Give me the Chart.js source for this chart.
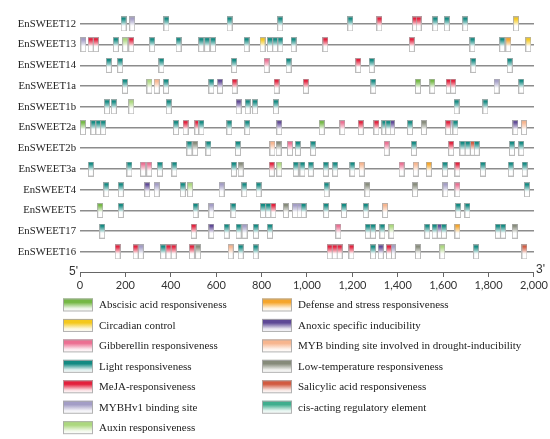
<!DOCTYPE html>
<html><head><meta charset="utf-8">
<script src="https://cdn.jsdelivr.net/npm/chart.js@4"></script>
<style>html,body{margin:0;padding:0;background:#fff;}#wrap{width:550px;height:439px;}</style>
</head><body><div id="wrap"><canvas id="c" width="550" height="439"></canvas></div>
<script>
// ---- categories (genes, top to bottom) ----
const genes = ['EnSWEET12','EnSWEET13','EnSWEET14','EnSWEET1a','EnSWEET1b','EnSWEET2a','EnSWEET2b','EnSWEET3a','EnSWEET4','EnSWEET5','EnSWEET17','EnSWEET16'];
// ---- element types (legend order) ----
const typeCodes = ['ABA','CIR','GA','LIG','MEJA','HV1','AUX','DEF','ANO','MYB','LTR','SA','CIS'];
const typeNames = ['Abscisic acid responsiveness','Circadian control','Gibberellin responsiveness','Light responsiveness','MeJA-responsiveness','MYBHv1 binding site','Auxin responsiveness','Defense and stress responsiveness','Anoxic specific inducibility','MYB binding site involved in drought-inducibility','Low-temperature responsiveness','Salicylic acid responsiveness','cis-acting regulatory element'];
const typeColors = ['#74b843','#f4c81c','#ec6f92','#128a82','#e3203c','#a39dc6','#acd87e','#f5a52a','#5e4896','#f7b58e','#868b7a','#d25a40','#3fae8e'];
// ---- x-axis tick values (bp) ----
const xTickValues = [0,200,400,600,800,1000,1200,1400,1600,1800,2000];
// ---- cis-element sites per gene: [position (bp), type code] ----
const EnSWEET12 = [[192,'LIG'],[230,'HV1'],[381,'LIG'],[659,'LIG'],[882,'LIG'],[1191,'LIG'],[1319,'MEJA'],[1476,'MEJA'],[1492,'MEJA'],[1565,'LIG'],[1616,'LIG'],[1697,'LIG'],[1921,'CIR']];
const EnSWEET13 = [[15,'HV1'],[47,'MEJA'],[70,'MEJA'],[158,'LIG'],[199,'AUX'],[226,'MEJA'],[318,'LIG'],[434,'LIG'],[534,'LIG'],[560,'LIG'],[586,'LIG'],[734,'LIG'],[804,'CIR'],[837,'LIG'],[860,'LIG'],[883,'LIG'],[941,'LIG'],[1081,'MEJA'],[1462,'MEJA'],[1729,'LIG'],[1860,'LIG'],[1887,'DEF'],[1975,'CIR']];
const EnSWEET14 = [[127,'LIG'],[177,'LIG'],[359,'LIG'],[679,'LIG'],[822,'GA'],[919,'LIG'],[1226,'MEJA'],[1285,'LIG'],[1733,'LIG'],[1893,'LIG']];
const EnSWEET1a = [[198,'LIG'],[306,'AUX'],[338,'MYB'],[379,'LIG'],[579,'LIG'],[617,'ANO'],[681,'MEJA'],[866,'MEJA'],[995,'MEJA'],[1292,'LIG'],[1489,'ABA'],[1552,'ABA'],[1624,'MEJA'],[1644,'MEJA'],[1835,'HV1'],[1944,'LIG']];
const EnSWEET1b = [[119,'LIG'],[149,'LIG'],[226,'AUX'],[391,'LIG'],[699,'ANO'],[739,'LIG'],[771,'LIG'],[863,'LIG'],[1659,'LIG'],[1786,'LIG']];
const EnSWEET2a = [[13,'ABA'],[59,'LIG'],[81,'LIG'],[102,'LIG'],[423,'LIG'],[465,'MEJA'],[517,'MEJA'],[535,'LIG'],[658,'LIG'],[737,'LIG'],[878,'ANO'],[1065,'ABA'],[1156,'GA'],[1237,'MEJA'],[1306,'MEJA'],[1341,'LIG'],[1358,'LIG'],[1375,'ANO'],[1454,'LIG'],[1515,'LTR'],[1622,'MEJA'],[1637,'HV1'],[1654,'LIG'],[1918,'ANO'],[1956,'MYB']];
const EnSWEET2b = [[482,'LIG'],[507,'LTR'],[566,'LIG'],[696,'LIG'],[848,'MYB'],[875,'LTR'],[925,'GA'],[960,'LIG'],[1027,'LIG'],[1351,'GA'],[1471,'LIG'],[1635,'MEJA'],[1685,'LIG'],[1708,'LIG'],[1728,'SA'],[1748,'LIG'],[1903,'LIG'],[1944,'LIG']];
const EnSWEET3a = [[48,'LIG'],[218,'LIG'],[278,'GA'],[305,'GA'],[352,'LIG'],[416,'LIG'],[678,'LIG'],[708,'LTR'],[845,'MEJA'],[878,'AUX'],[951,'LIG'],[980,'LIG'],[1017,'LIG'],[1083,'LIG'],[1124,'LIG'],[1200,'LIG'],[1241,'MYB'],[1417,'GA'],[1479,'MYB'],[1537,'DEF'],[1608,'LIG'],[1663,'MEJA'],[1775,'LIG'],[1898,'LIG'],[1959,'LIG']];
const EnSWEET4 = [[116,'LIG'],[180,'LIG'],[296,'ANO'],[338,'HV1'],[453,'LIG'],[485,'AUX'],[624,'HV1'],[724,'LIG'],[787,'LIG'],[1086,'LIG'],[1266,'LTR'],[1476,'LTR'],[1610,'HV1'],[1663,'GA'],[1969,'LIG']];
const EnSWEET5 = [[89,'ABA'],[180,'LIG'],[509,'LIG'],[579,'HV1'],[676,'LIG'],[806,'LIG'],[829,'LIG'],[852,'MEJA'],[907,'LTR'],[947,'HV1'],[967,'HV1'],[985,'LIG'],[1084,'LIG'],[1163,'LIG'],[1259,'LIG'],[1344,'MYB'],[1666,'LIG'],[1707,'LIG']];
const EnSWEET17 = [[98,'LIG'],[501,'MEJA'],[579,'ANO'],[646,'LIG'],[699,'LIG'],[725,'HV1'],[775,'LIG'],[837,'LIG'],[1138,'GA'],[1268,'LIG'],[1291,'LIG'],[1332,'LIG'],[1372,'AUX'],[1530,'LIG'],[1562,'LIG'],[1583,'ANO'],[1603,'LIG'],[1663,'DEF'],[1841,'LIG'],[1864,'LIG'],[1915,'LTR']];
const EnSWEET16 = [[166,'MEJA'],[245,'MEJA'],[268,'HV1'],[366,'LIG'],[390,'MEJA'],[413,'MEJA'],[493,'MEJA'],[520,'LTR'],[664,'MYB'],[708,'LIG'],[774,'LIG'],[1100,'MEJA'],[1122,'MEJA'],[1144,'MEJA'],[1196,'MEJA'],[1291,'LIG'],[1325,'ANO'],[1361,'MEJA'],[1378,'HV1'],[1489,'LTR'],[1596,'AUX'],[1745,'LIG'],[1958,'SA']];

const geneSites = [EnSWEET12,EnSWEET13,EnSWEET14,EnSWEET1a,EnSWEET1b,EnSWEET2a,EnSWEET2b,EnSWEET3a,EnSWEET4,EnSWEET5,EnSWEET17,EnSWEET16];

// ---- styling helpers ----
function hexRgb(h){h=h.replace('#','');return [parseInt(h.substr(0,2),16),parseInt(h.substr(2,2),16),parseInt(h.substr(4,2),16)];}
function mix(c,t){const a=hexRgb(c);return 'rgb('+a.map(v=>Math.round(v+(255-v)*t)).join(',')+')';}
function makeBox(color,w,h){
  const c=document.createElement('canvas');c.width=w;c.height=h;
  const g=c.getContext('2d');
  const gr=g.createLinearGradient(0,0,0,h);
  gr.addColorStop(0,color);gr.addColorStop(0.15,color);
  gr.addColorStop(0.5,mix(color,0.7));gr.addColorStop(0.6,'#ffffff');gr.addColorStop(1,'#ffffff');
  g.fillStyle=gr;g.fillRect(0,0,w,h);
  g.strokeStyle='rgba(175,175,175,0.85)';g.lineWidth=1;g.strokeRect(0.5,0.5,w-1,h-1);
  return c;
}
const BOX_W=6, BOX_H=15;

const datasets = typeCodes.map((code,ti)=>{
  const pts=[];
  geneSites.forEach((sites,gi)=>sites.forEach(s=>{ if(s[1]===code) pts.push({x:s[0],y:gi}); }));
  return {label:typeNames[ti], data:pts, swatch:typeColors[ti], pointStyle:makeBox(typeColors[ti],BOX_W,BOX_H), pointRadius:4, showLine:false};
});

const extrasPlugin = {
  id:'extras',
  afterDraw(chart){
    const ctx=chart.ctx, ca=chart.chartArea;
    ctx.save();
    // 5' and 3' labels
    ctx.fillStyle='#333';ctx.font='12px "Liberation Sans"';ctx.textBaseline='middle';
    ctx.textAlign='right';ctx.fillText("5'",ca.left-2,ca.bottom);
    ctx.textAlign='left';ctx.fillText("3'",ca.right+2,ca.bottom-2);
    // legend in two columns
    const cols=[{x:63,items:[0,1,2,3,4,5,6]},{x:262,items:[7,8,9,10,11,12]}];
    ctx.font='11px "Liberation Serif"';ctx.textAlign='left';
    cols.forEach(col=>col.items.forEach((di,r)=>{
      const ds=chart.data.datasets[di];
      const yc=305+r*20.45, sw=30, sh=13, x=col.x, y=yc-sh/2;
      const gr=ctx.createLinearGradient(0,y,0,y+sh);
      gr.addColorStop(0,ds.swatch);gr.addColorStop(0.3,ds.swatch);gr.addColorStop(0.75,mix(ds.swatch,0.85));gr.addColorStop(1,'#ffffff');
      ctx.fillStyle=gr;ctx.fillRect(x,y,sw,sh);
      ctx.strokeStyle='rgba(170,170,170,0.9)';ctx.lineWidth=1;ctx.strokeRect(x+0.5,y+0.5,sw-1,sh-1);
      ctx.fillStyle='#222';ctx.fillText(ds.label,x+36,yc+0.5);
    }));
    ctx.restore();
  }
};

new Chart(document.getElementById('c'),{
  type:'scatter',
  data:{datasets},
  options:{
    responsive:false,animation:false,events:[],
    layout:{padding:{top:13.6,right:15,left:0,bottom:0}},
    plugins:{legend:{display:false},tooltip:{enabled:false}},
    scales:{
      x:{type:'linear',min:0,max:2000,
        afterBuildTicks:s=>{s.ticks=xTickValues.map(v=>({value:v}));},
        afterFit:s=>{s.height=439-272;},
        ticks:{callback:v=>Number(v).toLocaleString('en-US'),font:{family:'Lato',size:11},color:'#333',padding:2,maxRotation:0,autoSkip:false},
        grid:{drawOnChartArea:false,drawTicks:true,tickLength:5,color:'#666'},
        border:{display:true,color:'#666',width:1}},
      y:{type:'linear',reverse:true,min:-0.5,max:11.97,
        afterBuildTicks:s=>{s.ticks=genes.map((_,i)=>({value:i}));},
        afterFit:s=>{s.width=80;},
        ticks:{callback:v=>genes[v],font:{family:'Liberation Serif',size:10.7},color:'#222',padding:4,autoSkip:false},
        grid:{color:'#8c8c8c',lineWidth:1.6,drawTicks:false},
        border:{display:false}}
    }
  },
  plugins:[extrasPlugin]
});
</script></body></html>
